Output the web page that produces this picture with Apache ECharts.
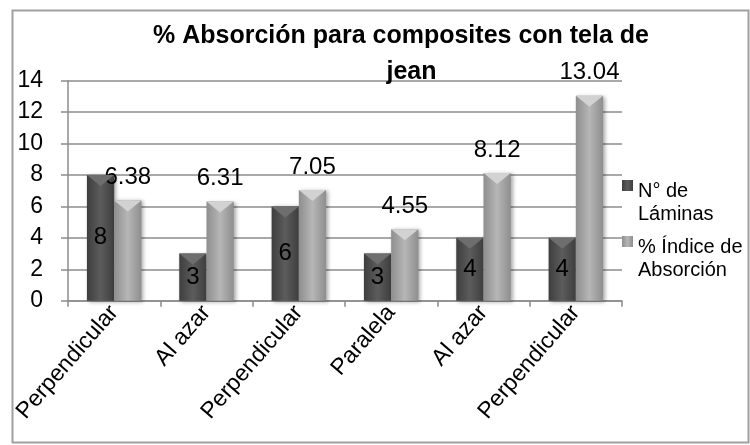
<!DOCTYPE html>
<html>
<head>
<meta charset="utf-8">
<script src="https://cdn.jsdelivr.net/npm/echarts@6/dist/echarts.min.js"></script>
<style>html,body{margin:0;padding:0;background:#fff}#c{width:750px;height:445px}</style>
</head>
<body>
<div id="c"></div>
<script>
var categories = ['Perpendicular', 'Al azar', 'Perpendicular', 'Paralela', 'Al azar', 'Perpendicular'];
var laminas = [8, 3, 6, 3, 4, 4];
var absorcion = [6.38, 6.31, 7.05, 4.55, 8.12, 13.04];
var yTicks = {min: 0, max: 14, interval: 2};
var seriesNames = ['N° de Láminas', '% Índice de Absorción'];
var legendLabels = {'N° de Láminas': 'N° de\nLáminas', '% Índice de Absorción': '% Índice de\nAbsorción'};
var titleLines = ['% Absorción para composites con tela de', 'jean'];

var FONT = '"Liberation Sans", Arial, sans-serif';
var chart = echarts.init(document.getElementById('c'), null, {renderer: 'canvas'});

function hGrad(edge, mid) {
  return new echarts.graphic.LinearGradient(0, 0, 1, 0, [
    {offset: 0, color: edge}, {offset: 0.5, color: mid}, {offset: 1, color: edge}
  ]);
}
var barCommon = {barGap: '0%', barCategoryGap: '41%'};
var tri = 'path://M0,0 L20,0 L10,9 Z';
// square at top of a tall, otherwise empty icon box so it lines up with the first text line
var legendIcon = 'path://M0,0 L11,0 L11,11 L0,11 Z M0,46 L11,46 Z';
var titleFont = {fontFamily: FONT, fontWeight: 'bold', fontSize: 25, lineHeight: 36, color: '#000'};

var option = {
  animation: false,
  backgroundColor: '#fff',
  graphic: [{
    type: 'rect', left: 10, top: 8, z: -10,
    shape: {width: 736, height: 432},
    style: {fill: 'none', stroke: '#a0a0a0', lineWidth: 2}
  }],
  title: {
    text: '{a|' + titleLines[0] + '}\n{b|' + titleLines[1] + '}',
    left: 401, top: 18, padding: 0, textAlign: 'center',
    textStyle: Object.assign({
      rich: {
        a: Object.assign({}, titleFont),
        b: Object.assign({padding: [0, 0, 0, 21]}, titleFont)
      }
    }, titleFont)
  },
  legend: {
    data: seriesNames, orient: 'vertical', left: 622, top: 180, padding: 0,
    icon: legendIcon, itemWidth: 11, itemHeight: 46, itemGap: 10, selectedMode: false,
    formatter: function (n) { return legendLabels[n]; },
    textStyle: {fontFamily: FONT, fontSize: 20, lineHeight: 23, color: '#000'}
  },
  grid: {left: 68, right: 128, top: 80.7, bottom: 144.3},
  xAxis: {
    type: 'category', data: categories,
    axisLine: {lineStyle: {color: '#8c8c8c', width: 1.5}},
    axisTick: {show: true, length: 6, lineStyle: {color: '#8c8c8c', width: 1.5}},
    axisLabel: {rotate: 49, fontFamily: FONT, fontSize: 23, color: '#000', margin: 8, interval: 0}
  },
  yAxis: {
    type: 'value', min: yTicks.min, max: yTicks.max, interval: yTicks.interval,
    axisLine: {show: true, lineStyle: {color: '#8c8c8c', width: 1.5}},
    axisTick: {show: true, length: 7, lineStyle: {color: '#8c8c8c', width: 1.5}},
    splitLine: {lineStyle: {color: '#8c8c8c', width: 1.5}},
    axisLabel: {fontFamily: FONT, fontSize: 23, color: '#000', margin: 25}
  },
  series: [
    Object.assign({
      name: seriesNames[0], type: 'bar', data: laminas,
      itemStyle: {color: hGrad('#3e3e3e', '#5c5c5c'), shadowBlur: 4, shadowColor: 'rgba(0,0,0,0.35)', shadowOffsetX: 2, shadowOffsetY: 1},
      label: {show: true, position: 'inside', fontFamily: FONT, fontSize: 24, color: '#000'}
    }, barCommon),
    Object.assign({
      name: seriesNames[1], type: 'bar', data: absorcion,
      itemStyle: {color: hGrad('#8e8e8e', '#b6b6b6'), shadowBlur: 4, shadowColor: 'rgba(0,0,0,0.35)', shadowOffsetX: 2, shadowOffsetY: 1},
      label: {show: true, position: 'top', distance: 11, fontFamily: FONT, fontSize: 24, color: '#000'}
    }, barCommon),
    Object.assign({
      name: seriesNames[0] + ' bevel', type: 'pictorialBar', data: laminas, symbol: tri,
      symbolPosition: 'end', symbolSize: ['100%', 11], symbolOffset: [0, 0],
      itemStyle: {color: '#6e6e6e'}, z: 3, silent: true
    }, barCommon),
    Object.assign({
      name: seriesNames[1] + ' bevel', type: 'pictorialBar', data: absorcion, symbol: tri,
      symbolPosition: 'end', symbolSize: ['100%', 11], symbolOffset: [0, 0],
      itemStyle: {color: '#d2d2d2'}, z: 3, silent: true
    }, barCommon)
  ]
};
chart.setOption(option);
</script>
</body>
</html>
